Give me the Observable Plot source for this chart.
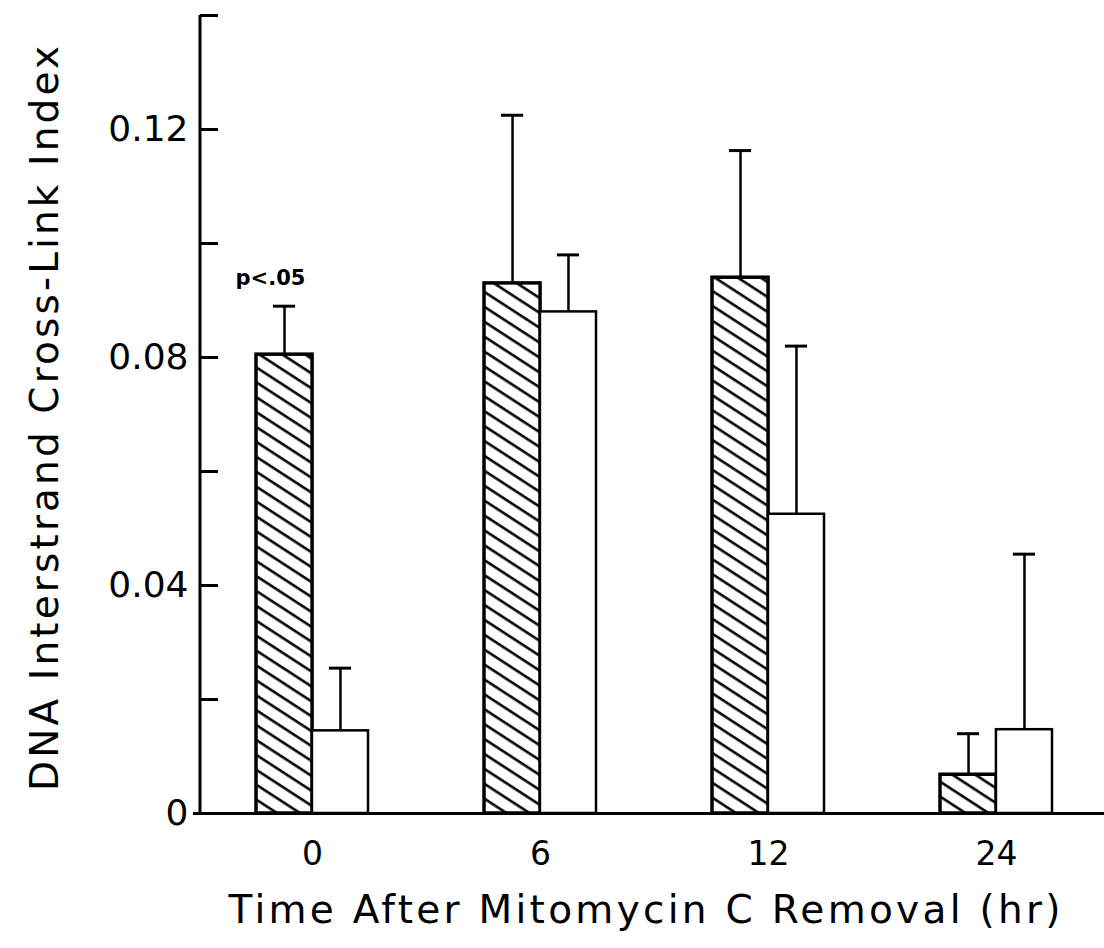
<!DOCTYPE html>
<html>
<head>
<meta charset="utf-8">
<script src="https://cdn.jsdelivr.net/npm/d3@7"></script>
<script src="https://cdn.jsdelivr.net/npm/@observablehq/plot@0.6"></script>
<style>
  body { margin: 0; background: #fff; }
  svg { display: block; }
</style>
</head>
<body>
<div id="chart"></div>
<script>
// Time points after removal of mitomycin C (hr)
const times = ["0", "6", "12", "24"];
// Hatched series: mean cross-link index and top of its error bar
const hatchedMean = [0.0805, 0.093, 0.094, 0.0068];
const hatchedUpper = [0.089, 0.1225, 0.1163, 0.014];
// Open series: mean cross-link index and top of its error bar
const openMean = [0.0145, 0.088, 0.0525, 0.0147];
const openUpper = [0.0255, 0.098, 0.082, 0.0455];
// Y axis: extent, tick stubs and labelled values
const yExtent = [0, 0.14];
const yStubs = [0.02, 0.04, 0.06, 0.08, 0.10, 0.12, 0.14];
const yLabelled = [0, 0.04, 0.08, 0.12];
// Titles and significance note
const xTitle = "Time After Mitomycin C Removal (hr)";
const yTitle = "DNA Interstrand Cross-Link Index";
const notes = [{time: "0", text: "p<.05"}];

const hatched = times.map((t, i) => ({time: t, mean: hatchedMean[i], upper: hatchedUpper[i]}));
const open = times.map((t, i) => ({time: t, mean: openMean[i], upper: openUpper[i]}));
const noteRows = notes.map(n => ({...n, y: hatchedUpper[times.indexOf(n.time)]}));

// Layout
const W = 1104, H = 948;
const mL = 200, mR = 0, mT = 15, mB = 135;
const padIn = 0.51, padOut = 0.235;
const step = (W - mL - mR) / (times.length - padIn + 2 * padOut);
const bw = step * (1 - padIn);      // width of a pair of bars
const half = bw / 2;                // width of one bar
const capInset = (half - 22) / 2;   // error-bar cap of 22px
const frameW = W - mL - mR;
const font = "'DejaVu Sans', sans-serif";

const chart = Plot.plot({
  width: W,
  height: H,
  marginLeft: mL,
  marginRight: mR,
  marginTop: mT,
  marginBottom: mB,
  style: {fontFamily: font, color: "black", background: "white"},
  x: {domain: times, paddingInner: padIn, paddingOuter: padOut, align: 0.52, axis: null},
  y: {domain: yExtent, axis: null},
  marks: [
    // bars
    Plot.barY(hatched, {x: "time", y: "mean", insetRight: half, fill: "url(#hatch)", stroke: "black", strokeWidth: 3.5}),
    Plot.barY(open, {x: "time", y: "mean", insetLeft: half, fill: "white", stroke: "black", strokeWidth: 2.5}),
    // error bars (upper only)
    Plot.ruleX(hatched, {x: "time", y1: "mean", y2: "upper", dx: -half / 2, strokeWidth: 2.5}),
    Plot.tickY(hatched, {x: "time", y: "upper", dx: -half / 2, insetLeft: capInset + half / 2, insetRight: capInset + half / 2, strokeWidth: 3}),
    Plot.ruleX(open, {x: "time", y1: "mean", y2: "upper", dx: half / 2, strokeWidth: 2.5}),
    Plot.tickY(open, {x: "time", y: "upper", dx: half / 2, insetLeft: capInset + half / 2, insetRight: capInset + half / 2, strokeWidth: 3}),
    // baseline
    Plot.ruleY([0], {strokeWidth: 3, insetLeft: -7}),
    // y axis line
    Plot.rect([yExtent], {y1: d => d[0], y2: d => d[1], insetLeft: -1.5, insetRight: frameW - 1.5, fill: "black"}),
    // y axis inward stubs and labels
    Plot.tickY(yStubs, {y: d => d, insetRight: frameW - 18, strokeWidth: 3}),
    Plot.axisY(yLabelled, {
      tickSize: 0, tickPadding: 12, fontSize: 36, label: null,
      tickFormat: d => d === 0 ? "0" : d.toFixed(2)
    }),
    // x axis labels
    Plot.axisX({tickSize: 0, tickPadding: 28, fontSize: 33, label: null}),
    // axis titles
    Plot.text([xTitle], {frameAnchor: "bottom", dy: 109, dx: -8, fontSize: 39}),
    Plot.text([yTitle], {frameAnchor: "left", textAnchor: "middle", rotate: -90, dx: -155, dy: 4, fontSize: 39}),
    // significance note
    Plot.text(noteRows, {x: "time", y: "y", text: "text", dx: -42, dy: -28, fontSize: 21, fontWeight: "bold"})
  ]
});

// Stretch the axis titles to their lettered width
const svg = d3.select(chart);
svg.selectAll("text").filter(function() { return this.textContent === xTitle; })
  .attr("textLength", 832).attr("lengthAdjust", "spacing");
svg.selectAll("text").filter(function() { return this.textContent === yTitle; })
  .attr("textLength", 745).attr("lengthAdjust", "spacing");

// Diagonal hatch fill used by the hatched bars
const defs = svg.insert("defs", ":first-child");
const pat = defs.append("pattern")
  .attr("id", "hatch")
  .attr("patternUnits", "userSpaceOnUse")
  .attr("width", 10)
  .attr("height", 12.5)
  .attr("patternTransform", "rotate(33)");
pat.append("rect").attr("width", 10).attr("height", 12.5).attr("fill", "white");
pat.append("line").attr("x1", -1).attr("x2", 11).attr("y1", 6).attr("y2", 6)
  .attr("stroke", "black").attr("stroke-width", 2.6);

document.getElementById("chart").append(chart);
</script>
</body>
</html>
